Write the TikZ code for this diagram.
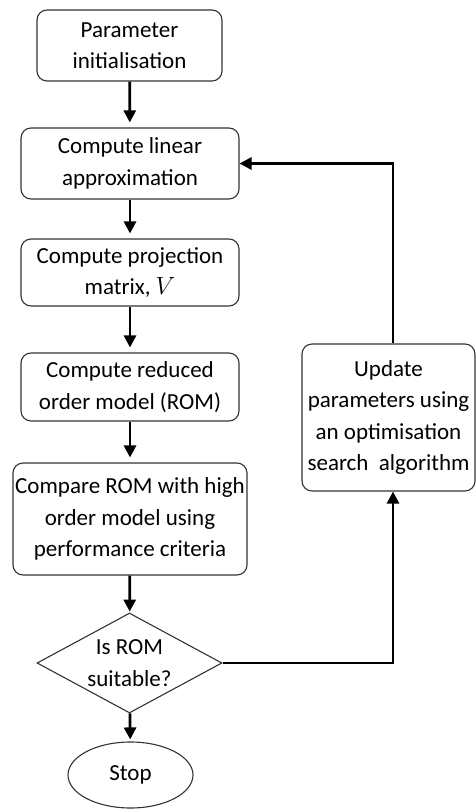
\documentclass[tikz,border=0pt]{standalone}
\usepackage{fontspec}
\setmainfont{Carlito}
\usetikzlibrary{shapes.geometric,arrows.meta}
\begin{document}
\begin{tikzpicture}[x=1pt,y=-1pt,
  every node/.style={font=\fontsize{23}{31.5}\selectfont, align=center, inner sep=0pt},
  procbox/.style={draw=black!80, line width=1.1pt, rounded corners=10pt},
  decision/.style={draw=black!80, line width=1.1pt, diamond, aspect=1.85},
  terminal/.style={draw=black!80, line width=1.1pt, ellipse},
  flow/.style={line width=2.8pt, -{Triangle[length=12pt,width=12pt]}},
]
\useasboundingbox (0,0) rectangle (476,811);

\node[procbox, minimum width=185pt, minimum height=71pt] (init) at (129.5,45.5) {Parameter\\initialisation};
\node[procbox, minimum width=218pt, minimum height=71pt] (lin) at (130,163.5) {Compute linear\\approximation};
\node[procbox, minimum width=218pt, minimum height=67pt] (proj) at (130,272.5) {Compute projection\\matrix, $V$};
\node[procbox, minimum width=218pt, minimum height=68pt] (rom) at (130,387) {Compute reduced\\order model (ROM)};
\node[procbox, minimum width=234pt, minimum height=112pt] (cmp) at (130,519) {Compare ROM with high\\order model using\\performance criteria};
\node[decision, minimum width=185pt, minimum height=100pt] (ok) at (129.5,663) {Is ROM\\suitable?};
\node[terminal, minimum width=125pt, minimum height=66pt] (stop) at (130.5,775) {Stop};
\node[procbox, minimum width=173pt, minimum height=147pt] (upd) at (388.5,417.5) {Update\\parameters using\\an optimisation\\search\ \ algorithm};

\coordinate (loopx) at (393,0);

\draw[flow, shorten >=5pt] (init) -- (lin);
\draw[flow, shorten >=5pt] (lin) -- (proj);
\draw[flow, shorten >=5pt] (proj) -- (rom);
\draw[flow, shorten >=5pt] (rom) -- (cmp);
\draw[flow, shorten >=1pt] (cmp) -- (ok);
\draw[flow, shorten >=2pt] (ok) -- (stop);
\draw[flow] (ok.east) -| (loopx |- upd.south);
\draw[flow] (loopx |- upd.north) |- (lin.east);
\end{tikzpicture}
\end{document}
